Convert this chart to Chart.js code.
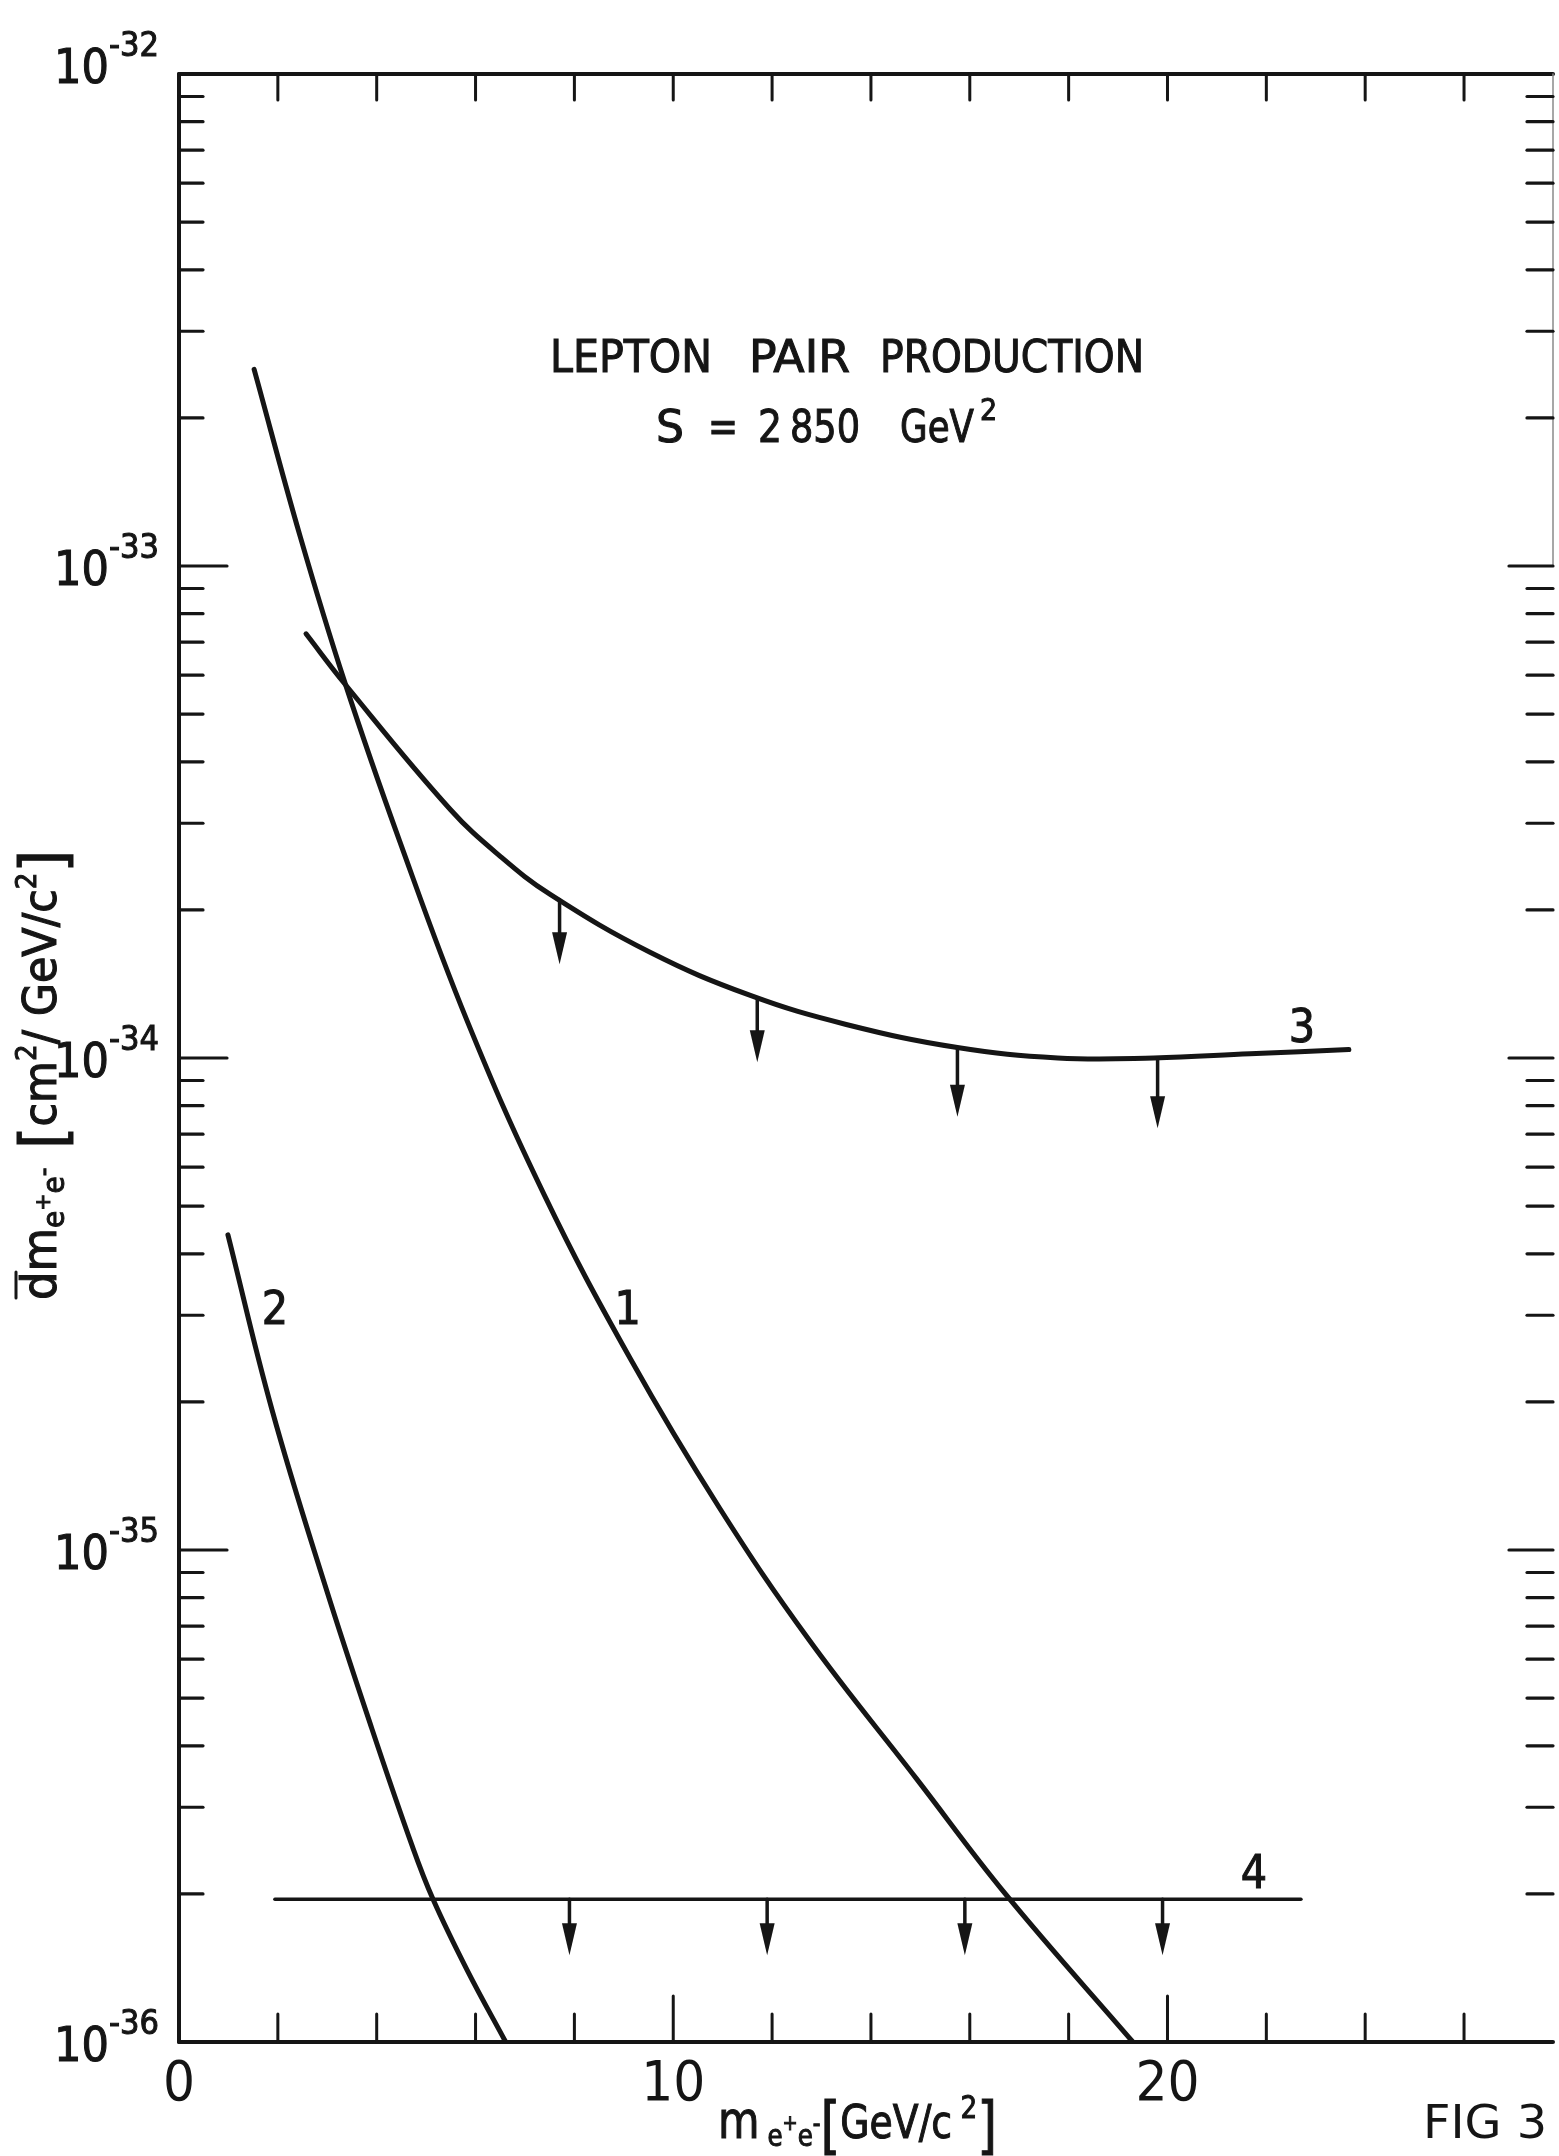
<!DOCTYPE html>
<html lang="en">
<head>
<meta charset="UTF-8">
<title>Lepton pair production - Fig 3</title>
<script src="https://cdn.jsdelivr.net/npm/chart.js"></script>
<style>
  html, body { margin: 0; padding: 0; background: #fff; }
  #wrap { width: 1559px; height: 2156px; }
</style>
</head>
<body>
<div id="wrap"><canvas id="fig3" width="1559" height="2156"></canvas></div>
<script>
// values: x = m(e+e-) in GeV/c^2, y = d(sigma)/dm in cm^2/GeV/c^2
var curve1X = [1.52, 2.45, 3.36, 4.47, 5.83, 7.39, 9.13, 10.93, 12.75, 14.92, 16.72, 19.3];
var curve1Y = [2.51e-33, 1.15e-33, 5.78e-34, 2.75e-34, 1.19e-34, 5.27e-35, 2.45e-35, 1.22e-35, 6.56e-36, 3.43e-36, 2.0e-36, 1.0e-36];

var curve2X = [0.99, 1.88, 2.96, 3.89, 4.72, 5.14, 5.83, 6.61];
var curve2Y = [4.37e-35, 1.93e-35, 8.45e-36, 4.37e-36, 2.5e-36, 1.95e-36, 1.4e-36, 1.0e-36];

var curve3X = [2.57, 3.36, 5.49, 6.5, 7.51, 9.53, 11.56, 13.5, 15.75, 17.78, 19.72, 21.67, 23.67];
var curve3Y = [7.28e-34, 5.75e-34, 3.2e-34, 2.57e-34, 2.15e-34, 1.64e-34, 1.34e-34, 1.17e-34, 1.05e-34, 1.0e-34, 1.0e-34, 1.02e-34, 1.04e-34];

var curve4X = [1.94, 22.7];
var curve4Y = [1.95e-36, 1.95e-36];

// upper-limit arrows (from the curve down to the tip)
var arrow3X = [7.7, 11.7, 15.75, 19.8];
var arrow3From = [2.1e-34, 1.32e-34, 1.05e-34, 1.0e-34];
var arrow3To = [1.55e-34, 9.8e-35, 7.6e-35, 7.2e-35];

var arrow4X = [7.9, 11.9, 15.9, 19.9];
var arrow4From = [1.95e-36, 1.95e-36, 1.95e-36, 1.95e-36];
var arrow4To = [1.5e-36, 1.5e-36, 1.5e-36, 1.5e-36];

// curve numbers
var curveNames = ['1', '2', '3', '4'];
var curveNameX = [9.08, 1.94, 22.72, 21.75];
var curveNameY = [3.1e-35, 3.1e-35, 1.16e-34, 2.22e-36];

// axes
var xMin = 0, xMax = 27.8;
var yMin = 1e-36, yMax = 1e-32;
var xTickValues = [2, 4, 6, 8, 10, 12, 14, 16, 18, 20, 22, 24, 26];
var xLabelValues = [0, 10, 20];
var yDecades = [-36, -35, -34, -33, -32];
var yMinorSteps = [2, 3, 4, 5, 6, 7, 8, 9];

var ink = '#151515';
var fam = '"DejaVu Sans Condensed", "DejaVu Sans", sans-serif';

function pts(xs, ys) {
    return xs.map(function (x, i) { return { x: x, y: ys[i] }; });
}

function curve(label, xs, ys, width, tension) {
    return {
        label: label,
        data: pts(xs, ys),
        borderColor: ink,
        borderWidth: width,
        pointRadius: 0,
        fill: false,
        tension: tension,
        borderCapStyle: 'round',
        borderJoinStyle: 'round'
    };
}

function line(ctx, x1, y1, x2, y2) {
    ctx.beginPath();
    ctx.moveTo(x1, y1);
    ctx.lineTo(x2, y2);
    ctx.stroke();
}

// draws a row of text pieces [text, size, dy], optionally squeezed to a width
function drawRuns(ctx, runs, x, y, targetW) {
    var w = 0;
    runs.forEach(function (r) {
        ctx.font = r[1] + 'px ' + fam;
        w += ctx.measureText(r[0]).width;
    });
    var s = targetW ? targetW / w : 1;
    ctx.save();
    ctx.translate(x, y);
    ctx.scale(s, 1);
    ctx.lineWidth = 1;
    var cx = 0;
    runs.forEach(function (r) {
        ctx.font = r[1] + 'px ' + fam;
        ctx.fillText(r[0], cx, r[2] || 0);
        ctx.strokeText(r[0], cx, r[2] || 0);
        cx += ctx.measureText(r[0]).width;
    });
    ctx.restore();
}

function arrow(ctx, px, y0, y1) {
    ctx.lineWidth = 3.5;
    line(ctx, px, y0, px, y1 - 28);
    ctx.beginPath();
    ctx.moveTo(px - 7.5, y1 - 32);
    ctx.lineTo(px + 7.5, y1 - 32);
    ctx.lineTo(px, y1);
    ctx.closePath();
    ctx.fill();
}

var decor = {
    id: 'decor',
    afterDatasetsDraw: function (chart) {
        var ctx = chart.ctx, a = chart.chartArea;
        var xs = chart.scales.x, ys = chart.scales.y;
        ctx.save();
        ctx.strokeStyle = ink;
        ctx.fillStyle = ink;
        ctx.lineCap = 'round';

        // frame
        ctx.lineWidth = 4;
        line(ctx, a.left, a.top, a.left, a.bottom);
        line(ctx, a.left, a.top, a.right, a.top);
        line(ctx, a.left, a.bottom, a.right, a.bottom);
        ctx.strokeStyle = '#8a8a8a';
        ctx.lineWidth = 1.5;
        line(ctx, a.right, a.top, a.right, ys.getPixelForValue(1e-33));
        ctx.strokeStyle = ink;

        // x ticks, bottom and top, pointing inward
        ctx.lineWidth = 3;
        xTickValues.forEach(function (v) {
            var px = xs.getPixelForValue(v);
            var len = (v % 10 === 0) ? 46 : 28;
            line(ctx, px, a.bottom, px, a.bottom - len);
            line(ctx, px, a.top, px, a.top + 26);
        });

        // y ticks, left and right
        yDecades.forEach(function (d) {
            var major = Math.pow(10, d);
            var py = ys.getPixelForValue(major);
            ctx.lineWidth = 3.2;
            if (d > -36 && d < -32) {
                line(ctx, a.left, py, a.left + 48, py);
                line(ctx, a.right, py, a.right - 44, py);
            }
            if (d === -32) return;
            yMinorSteps.forEach(function (k) {
                var pm = ys.getPixelForValue(k * major);
                line(ctx, a.left, pm, a.left + 24, pm);
                line(ctx, a.right, pm, a.right - 26, pm);
            });
        });

        // y labels 10^n
        ctx.textAlign = 'left';
        ctx.textBaseline = 'alphabetic';
        yDecades.forEach(function (d) {
            var py = ys.getPixelForValue(Math.pow(10, d));
            var up = (d === -32) ? 10 : 0;
            ctx.font = '34px ' + fam;
            var ew = ctx.measureText('-' + (-d)).width;
            ctx.font = '48px ' + fam;
            var bw = ctx.measureText('10').width;
            var right = a.left - 20;
            drawRuns(ctx, [['-' + (-d), 34]], right - ew, py - 8 - up);
            drawRuns(ctx, [['10', 48]], right - ew - bw, py + 19 - up);
        });

        // x labels
        ctx.textAlign = 'center';
        ctx.font = '56px ' + fam;
        xLabelValues.forEach(function (v) {
            ctx.fillText(String(v), xs.getPixelForValue(v), a.bottom + 58);
        });

        // upper-limit arrows
        arrow3X.forEach(function (v, i) {
            arrow(ctx, xs.getPixelForValue(v), ys.getPixelForValue(arrow3From[i]), ys.getPixelForValue(arrow3To[i]));
        });
        arrow4X.forEach(function (v, i) {
            arrow(ctx, xs.getPixelForValue(v), ys.getPixelForValue(arrow4From[i]), ys.getPixelForValue(arrow4To[i]));
        });

        // curve numbers
        ctx.textAlign = 'left';
        curveNames.forEach(function (n, i) {
            ctx.font = '46px ' + fam;
            var w = ctx.measureText(n).width;
            drawRuns(ctx, [[n, 46]], xs.getPixelForValue(curveNameX[i]) - w / 2, ys.getPixelForValue(curveNameY[i]) + 16);
        });

        // title block
        drawRuns(ctx, [['LEPTON', 45]], 550, 372, 162);
        drawRuns(ctx, [['PAIR', 45]], 749, 372, 101);
        drawRuns(ctx, [['PRODUCTION', 45]], 880, 372, 264);
        drawRuns(ctx, [['S', 45]], 656, 442, 28);
        drawRuns(ctx, [['=', 45]], 708, 442, 30);
        drawRuns(ctx, [['2', 45]], 758, 442, 24);
        drawRuns(ctx, [['850', 45]], 790, 442, 70);
        drawRuns(ctx, [['GeV', 45]], 900, 442, 74);
        drawRuns(ctx, [['2', 30]], 980, 420);

        // x axis title
        drawRuns(ctx, [['m', 52], [' e', 30, 8], ['+', 22, -8], ['e', 30, 8], ['-', 26, -6], ['[', 62, 8], ['GeV/c', 46], [' 2', 32, -20], [']', 62, 8]], 718, 2138, 279);

        // figure number
        ctx.font = '46px ' + fam;
        ctx.save();
        ctx.translate(1423, 2138);
        ctx.scale(124 / ctx.measureText('FIG 3').width, 1);
        ctx.fillText('FIG 3', 0, 0);
        ctx.restore();

        // y axis title, rotated
        ctx.save();
        ctx.translate(56, 1300);
        ctx.rotate(-Math.PI / 2);
        drawRuns(ctx, [['dm', 48], ['e', 30, 8], ['+', 22, -6], ['e', 30, 8], ['-', 26, -4], [' [', 62, 8], ['cm', 46], ['2', 28, -20], ['/ GeV/c', 46], ['2', 28, -20], [']', 62, 8]], 0, 0, 450);
        ctx.lineWidth = 3;
        line(ctx, 2, -40, 28, -40);
        ctx.restore();

        ctx.restore();
    }
};

var chart = new Chart(document.getElementById('fig3').getContext('2d'), {
    type: 'line',
    data: {
        datasets: [
            curve('1', curve1X, curve1Y, 5, 0.4),
            curve('2', curve2X, curve2Y, 5, 0.4),
            curve('3', curve3X, curve3Y, 5, 0.4),
            curve('4', curve4X, curve4Y, 3.5, 0)
        ]
    },
    options: {
        responsive: false,
        animation: false,
        devicePixelRatio: 1,
        layout: { padding: { left: 179, right: 6, top: 74, bottom: 114 } },
        plugins: { legend: { display: false }, tooltip: { enabled: false } },
        scales: {
            x: { type: 'linear', min: xMin, max: xMax, display: false },
            y: { type: 'logarithmic', min: yMin, max: yMax, display: false }
        }
    },
    plugins: [decor]
});
</script>
</body>
</html>
